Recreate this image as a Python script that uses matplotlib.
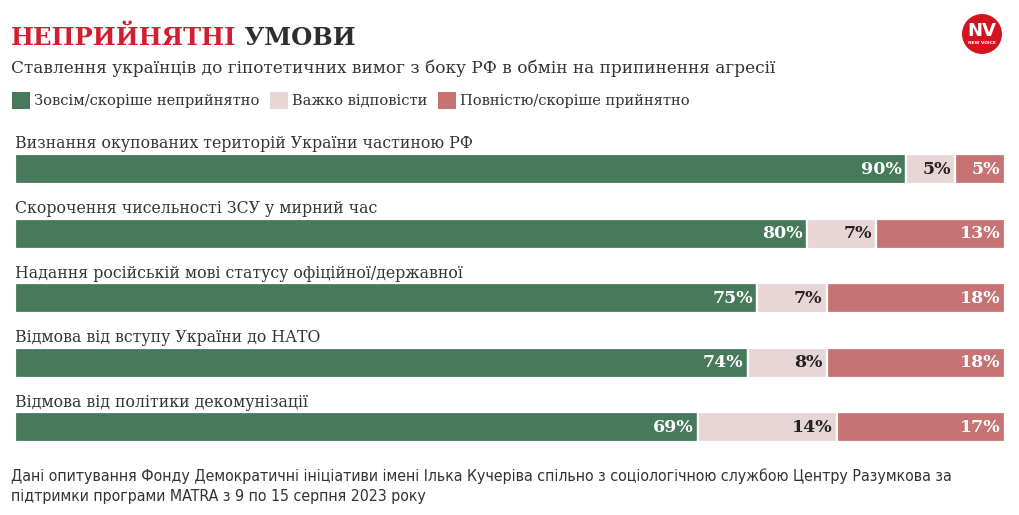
import matplotlib.pyplot as plt
from matplotlib.patches import Rectangle, Circle
import numpy as np

categories = [
    "Визнання окупованих територій України частиною РФ",
    "Скорочення чисельності ЗСУ у мирний час",
    "Надання російській мові статусу офіційної/державної",
    "Відмова від вступу України до НАТО",
    "Відмова від політики декомунізації",
]
unacceptable = [90, 80, 75, 74, 69]
hard_to_say = [5, 7, 7, 8, 14]
acceptable = [5, 13, 18, 18, 17]

series_names = ["Зовсім/скоріше неприйнятно", "Важко відповісти", "Повністю/скоріше прийнятно"]
colors = ["#467a5b", "#e8d5d5", "#c87373"]
label_colors = ["white", "#222222", "white"]

title_red = "НЕПРИЙНЯТНІ"
title_dark = " УМОВИ"
subtitle = "Ставлення українців до гіпотетичних вимог з боку РФ в обмін на припинення агресії"
footnote = ("Дані опитування Фонду Демократичні ініціативи імені Ілька Кучеріва спільно з соціологічною службою Центру Разумкова за\n"
            "підтримки програми MATRA з 9 по 15 серпня 2023 року")

W, H = 1020, 515
serif = ["DejaVu Serif"]

fig = plt.figure(figsize=(W / 100, H / 100), dpi=100)
fig.patch.set_facecolor("white")


def fx(px):
    return px / W


def fy(py):
    return 1 - py / H


# title
t1 = fig.text(fx(11), fy(45), title_red, fontsize=17.5, fontweight="bold", color="#d21f30",
              family=serif, va="baseline", ha="left")
fig.add_artist(plt.Annotation(title_dark, xy=(1, 0), xycoords=t1, va="bottom", ha="left",
                              fontsize=17.5, fontweight="bold", color="#2e2e2e", family=serif))
fig.text(fx(11), fy(68), subtitle, fontsize=12.15, color="#333333", family=serif, va="center")

# legend
leg_x = [12, 270, 438]
for x0, name, c in zip(leg_x, series_names, colors):
    fig.add_artist(Rectangle((fx(x0), fy(109)), fx(18), 17 / H, transform=fig.transFigure,
                             facecolor=c, edgecolor="none"))
    fig.text(fx(x0 + 22), fy(101), name, fontsize=10.5, color="#333333", family=serif, va="center")

# logo
ax_logo = fig.add_axes([fx(962), fy(54), fx(40), 40 / H])
ax_logo.set_xlim(0, 1)
ax_logo.set_ylim(0, 1)
ax_logo.set_aspect("equal")
ax_logo.axis("off")
ax_logo.add_patch(Circle((0.5, 0.5), 0.5, facecolor="#d3141f", edgecolor="none"))
ax_logo.text(0.5, 0.58, "NV", fontsize=13, fontweight="bold", color="white", ha="center",
             va="center", family=["DejaVu Sans"])
ax_logo.text(0.5, 0.27, "NEW VOICE", fontsize=3.2, fontweight="bold", color="white", ha="center",
             va="center", family=["DejaVu Sans"])

# bars
ax = fig.add_axes([fx(15), fy(450), fx(990), 320 / H])
ax.axis("off")
y = np.arange(len(categories))
data = [unacceptable, hard_to_say, acceptable]
left = np.zeros(len(categories))
for vals, c, lc in zip(data, colors, label_colors):
    vals = np.array(vals, dtype=float)
    ax.barh(y, vals, left=left, height=0.465, color=c, edgecolor="white", linewidth=1.6)
    for yi, l, v in zip(y, left, vals):
        ax.text(l + v - 0.45, yi, f"{int(v)}%", ha="right", va="center", fontsize=12.5,
                fontweight="bold", color=lc, family=serif)
    left += vals

for yi, cat in zip(y, categories):
    ax.text(0, yi - 0.395, cat, ha="left", va="center", fontsize=11.3, color="#333333", family=serif)

ax.set_xlim(0, 100)
ax.set_ylim(4.349, -0.612)

fig.text(fx(11), fy(486), footnote, fontsize=11.4, color="#333333", family=["DejaVu Sans"],
         fontstretch="condensed", va="center", linespacing=1.4)

fig.savefig("out.png", dpi=100)
